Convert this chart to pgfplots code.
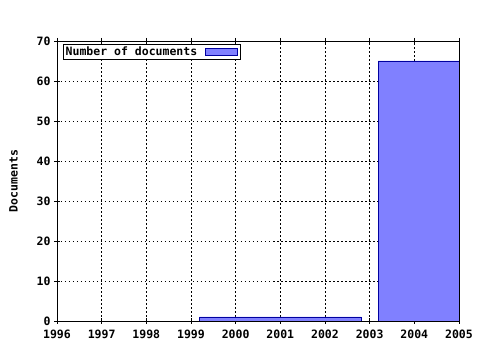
\documentclass[border=0pt]{standalone}
\usepackage{pgfplots}
\pgfplotsset{compat=1.18}
\usepackage{fontspec}
\setmainfont{DejaVu Sans Mono}[BoldFont={* Bold}]
\definecolor{barfill}{RGB}{128,128,255}
\definecolor{baredge}{RGB}{0,0,160}
\begin{document}
\begin{tikzpicture}
\begin{axis}[
  scale only axis, width=402pt, height=280pt,
  xmin=1996, xmax=2005, ymin=0, ymax=70,
  xtick={1996,...,2005}, ytick={0,10,...,70},
  minor x tick num=3,
  grid=major,
  major grid style={black, dash pattern=on 1.5pt off 2.5pt, line width=0.9pt},
  axis line style={black, line width=0.8pt},
  tick style={black, line width=0.8pt},
  tick align=center,
  major tick length=6pt, minor tick length=3pt,
  xtick pos=both, ytick pos=left,
  /pgf/number format/assume math mode=true,
  /pgf/number format/1000 sep={},
  ticklabel style={font=\fontsize{11.5}{14}\selectfont\bfseries},
  xticklabel style={yshift=-2.5pt, text height=8.5pt, text depth=0pt},
  ylabel={Documents},
  ylabel style={font=\fontsize{11.5}{14}\selectfont\bfseries, yshift=12pt},
  legend plot pos=right,
  legend style={at={(0.015,0.99)}, anchor=north west, draw=black, line width=0.8pt,
    font=\fontsize{11.5}{14}\selectfont\bfseries, inner sep=0.3pt,
    row sep=0pt, cells={anchor=west}},
  legend image code/.code={\path[draw=none,fill=none] (0pt,0pt) -- (41pt,0pt);
    \draw[#1, line width=0.8pt] (6pt,-3.5pt) rectangle (38pt,3.5pt);},
]
\addplot[ybar, bar width=3.62, fill=barfill, draw=baredge, line width=0.8pt]
  coordinates {(2001,1) (2005,65)};
\addlegendentry{Number of documents}
\end{axis}
\pgfresetboundingbox
\useasboundingbox (-57pt,-29pt) rectangle (423pt,321pt);
\end{tikzpicture}
\end{document}
